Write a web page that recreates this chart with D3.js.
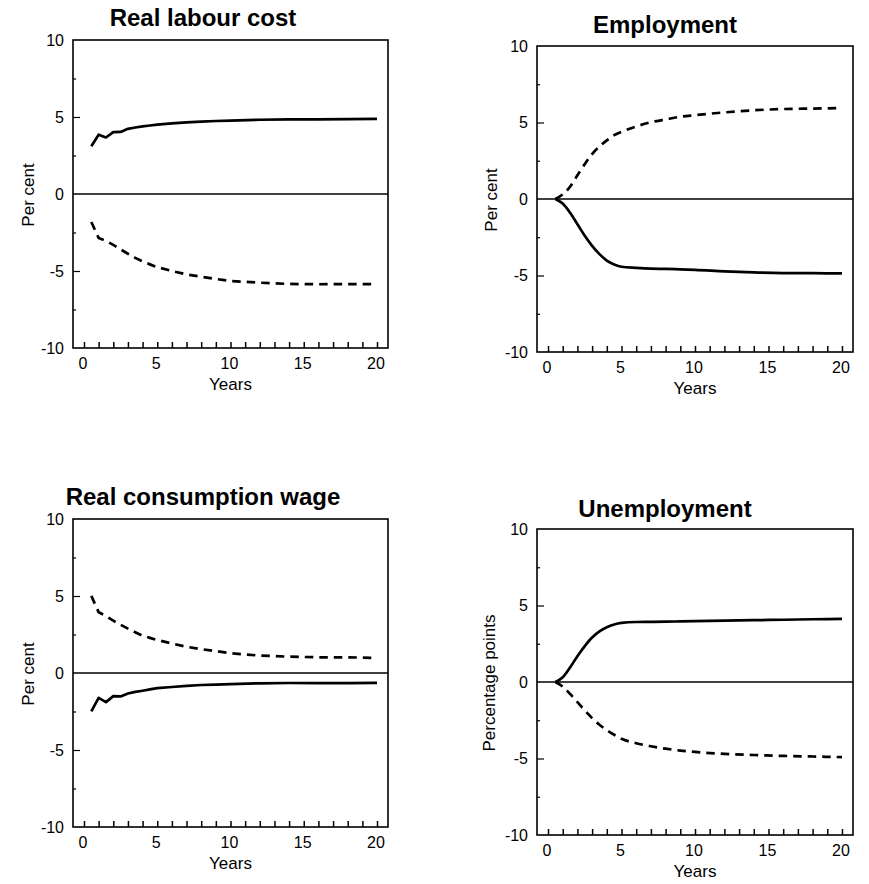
<!DOCTYPE html>
<html><head><meta charset="utf-8">
<script src="https://cdn.jsdelivr.net/npm/d3@7"></script>
<style>
body{margin:0;background:#fff}
svg{display:block}
text{font-family:"Liberation Sans",Arial,Helvetica,sans-serif;fill:#000}
</style>
</head><body>
<svg id="chart" width="869" height="884"></svg>
<script>
// ---- data ----
const years = [0.5,1,1.5,2,2.5,3,3.5,4,4.5,5,6,7,8,9,10,12,14,16,18,20];
const xTickLabels = [0,5,10,15,20];
const yTickLabels = [-10,-5,0,5,10];
const titles = ["Real labour cost","Employment","Real consumption wage","Unemployment"];
const yTitles = ["Per cent","Per cent","Per cent","Percentage points"];
const xTitle = "Years";

const labourCostSolid  = [3.1,3.85,3.67,4.02,4.03,4.23,4.32,4.39,4.45,4.51,4.59,4.65,4.70,4.74,4.77,4.82,4.85,4.85,4.86,4.88];
const labourCostDashed = [-1.82,-2.85,-3.05,-3.3,-3.6,-3.88,-4.15,-4.38,-4.57,-4.75,-5.0,-5.22,-5.37,-5.52,-5.65,-5.76,-5.84,-5.86,-5.85,-5.86];
const employmentSolid  = [0,-0.3,-0.9,-1.65,-2.4,-3.06,-3.6,-4.03,-4.28,-4.43,-4.5,-4.55,-4.57,-4.6,-4.63,-4.73,-4.8,-4.84,-4.85,-4.86];
const employmentDashed = [0,0.3,0.8,1.55,2.28,2.94,3.43,3.83,4.17,4.39,4.74,5.02,5.2,5.38,5.48,5.66,5.8,5.88,5.91,5.94];
const consWageSolid    = [-2.49,-1.61,-1.89,-1.5,-1.52,-1.33,-1.23,-1.15,-1.06,-0.98,-0.91,-0.84,-0.78,-0.75,-0.72,-0.67,-0.65,-0.66,-0.66,-0.64];
const consWageDashed   = [5.01,3.95,3.7,3.4,3.13,2.88,2.65,2.42,2.28,2.14,1.92,1.7,1.55,1.42,1.28,1.13,1.06,1.02,1.02,0.98];
const unemploySolid    = [0,0.31,0.95,1.69,2.35,2.91,3.31,3.58,3.76,3.86,3.92,3.93,3.94,3.96,3.98,4.01,4.04,4.07,4.1,4.13];
const unemployDashed   = [0,-0.3,-0.78,-1.32,-1.86,-2.36,-2.79,-3.15,-3.45,-3.71,-4.0,-4.2,-4.36,-4.48,-4.57,-4.7,-4.77,-4.83,-4.87,-4.91];

// ---- layout ----
const panels = [
  {title:titles[0], yTitle:yTitles[0], solid:labourCostSolid, dashed:labourCostDashed, linear:true,
   box:{l:73,r:388,t:40,b:348}, titleX:203, titleY:26, yTitleX:34},
  {title:titles[1], yTitle:yTitles[1], solid:employmentSolid, dashed:employmentDashed, linear:false,
   box:{l:537,r:853,t:46,b:352}, titleX:665, titleY:33, yTitleX:497},
  {title:titles[2], yTitle:yTitles[2], solid:consWageSolid, dashed:consWageDashed, linear:true,
   box:{l:73,r:388,t:519,b:827}, titleX:203, titleY:505, yTitleX:34},
  {title:titles[3], yTitle:yTitles[3], solid:unemploySolid, dashed:unemployDashed, linear:false,
   box:{l:537,r:853,t:529,b:835}, titleX:665, titleY:517, yTitleX:495}
];

const svg = d3.select("#chart");

panels.forEach(p => {
  const b = p.box;
  const x = d3.scaleLinear().domain([-0.75, 20.75]).range([b.l, b.r]);
  const y = d3.scaleLinear().domain([-10, 10]).range([b.b, b.t]);
  const g = svg.append("g");

  // title
  g.append("text").attr("x", p.titleX).attr("y", p.titleY)
    .attr("text-anchor","middle").attr("font-size", 24).attr("font-weight","bold")
    .text(p.title);

  // zero line
  g.append("line").attr("x1", b.l).attr("x2", b.r).attr("y1", y(0)).attr("y2", y(0))
    .attr("stroke","#000").attr("stroke-width",1.3);

  // bottom ticks (inward)
  const bottomAxis = d3.axisTop(x).tickValues(d3.range(0, 21, 1)).tickSize(6).tickFormat("");
  const ba = g.append("g").attr("transform", `translate(0,${b.b})`).call(bottomAxis);
  ba.select(".domain").remove();
  ba.selectAll(".tick line").attr("stroke","#000").attr("stroke-width",1.5);

  // left ticks major & minor (inward)
  const leftMajor = d3.axisRight(y).tickValues([-5,5]).tickSize(7).tickFormat("");
  const lm = g.append("g").attr("transform", `translate(${b.l},0)`).call(leftMajor);
  lm.select(".domain").remove();
  lm.selectAll(".tick line").attr("stroke","#000").attr("stroke-width",1.2);
  const leftMinor = d3.axisRight(y).tickValues([-7.5,-2.5,2.5,7.5]).tickSize(3).tickFormat("");
  const ln = g.append("g").attr("transform", `translate(${b.l},0)`).call(leftMinor);
  ln.select(".domain").remove();
  ln.selectAll(".tick line").attr("stroke","#000").attr("stroke-width",1.2);

  // x tick labels
  g.selectAll(".xl").data(xTickLabels).enter().append("text")
    .attr("x", d => x(d) - 1).attr("y", b.b + 21)
    .attr("text-anchor","middle").attr("font-size", 16).text(d => d);

  // y tick labels
  g.selectAll(".yl").data(yTickLabels).enter().append("text")
    .attr("x", b.l - 9).attr("y", d => y(d)).attr("dy","0.36em")
    .attr("text-anchor","end").attr("font-size", 16).text(d => d);

  // x title
  g.append("text").attr("x", x(10)).attr("y", b.b + 42)
    .attr("text-anchor","middle").attr("font-size", 17).text(xTitle);

  // y title
  const cy = (b.t + b.b) / 2 + 1;
  g.append("text").attr("transform", `translate(${p.yTitleX},${cy}) rotate(-90)`)
    .attr("text-anchor","middle").attr("font-size", 17).text(p.yTitle);

  // series
  const line = d3.line().x((d,i) => x(years[i])).y(d => y(d))
    .curve(p.linear ? d3.curveLinear : d3.curveMonotoneX);
  g.append("path").datum(p.dashed).attr("d", line)
    .attr("fill","none").attr("stroke","#000").attr("stroke-width",2.7)
    .attr("stroke-dasharray","8.5,6");
  g.append("path").datum(p.solid).attr("d", line)
    .attr("fill","none").attr("stroke","#000").attr("stroke-width",2.7)
    .attr("stroke-linejoin","round");

  // frame
  g.append("rect").attr("x", b.l).attr("y", b.t).attr("width", b.r - b.l).attr("height", b.b - b.t)
    .attr("fill","none").attr("stroke","#000").attr("stroke-width",1.6);
});
</script>
</body></html>
